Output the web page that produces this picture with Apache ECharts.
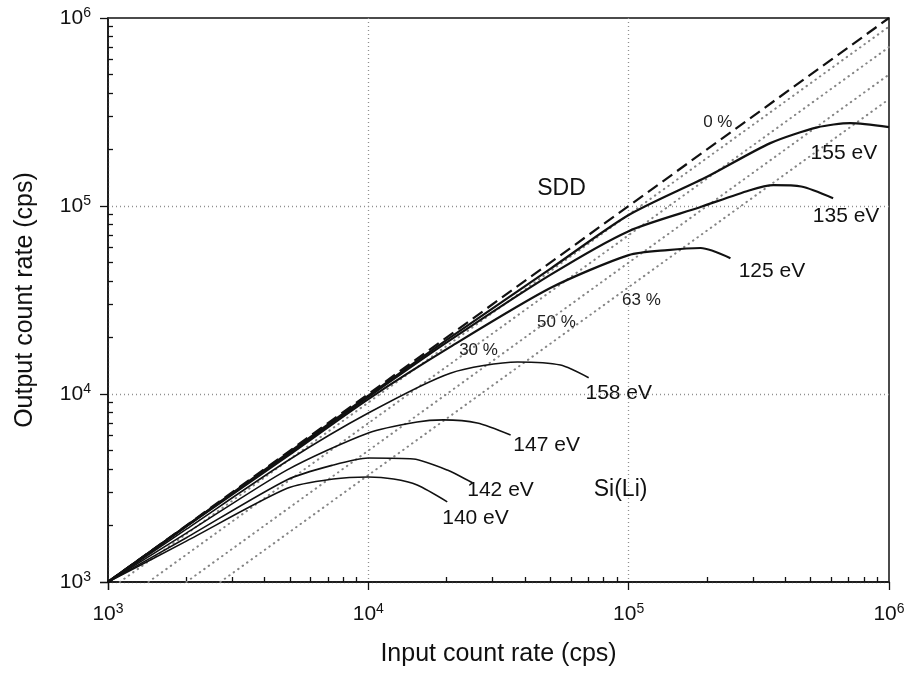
<!DOCTYPE html>
<html><head><meta charset="utf-8">
<script src="https://cdn.jsdelivr.net/npm/echarts@6/dist/echarts.min.js"></script>
<style>html,body{margin:0;padding:0;background:#fff}#c{width:908px;height:679px}</style>
</head><body><div id="c"></div>
<script>
// ---------- data ----------
const tickExponent = {1000: '3', 10000: '4', 100000: '5', 1000000: '6'};

// SDD curves (input cps, output cps)
const sdd155X = [1000, 2000, 5000, 10000, 20000, 50000, 100000, 200000, 350000, 530000, 710000, 1000000];
const sdd155Y = [1000, 1990, 4930, 9800, 19400, 46300, 89500, 143000, 216000, 262000, 276000, 263000];
const sdd135X = [1000, 2000, 5000, 10000, 20000, 50000, 100000, 190000, 290000, 360000, 460000, 610000];
const sdd135Y = [1000, 1985, 4880, 9650, 18800, 43000, 73500, 99000, 121000, 129000, 127000, 110000];
const sdd125X = [1000, 2000, 5000, 10000, 20650, 50000, 100000, 141000, 189000, 246000];
const sdd125Y = [1000, 1975, 4780, 9400, 17800, 36600, 54800, 58300, 59800, 52800];

// Si(Li) curves
const sili158X = [1000, 2000, 4880, 10000, 20650, 37400, 54700, 70200];
const sili158Y = [1000, 1910, 4400, 7920, 12900, 14800, 14250, 12200];
const sili147X = [1000, 2000, 4880, 10000, 15400, 19400, 26200, 35200];
const sili147Y = [1000, 1820, 3950, 6210, 7100, 7280, 7010, 6050];
const sili142X = [1000, 2000, 4880, 7330, 10000, 14900, 20100, 25100];
const sili142Y = [1000, 1720, 3500, 4190, 4570, 4510, 3940, 3370];
const sili140X = [1000, 2000, 4880, 7330, 10000, 12500, 15400, 20100];
const sili140Y = [1000, 1650, 3150, 3530, 3620, 3530, 3280, 2670];

// ideal (0 % dead time) and dead-time reference lines
const idealX = [1000, 1000000];
const idealY = [1000, 1000000];
const dt10X = [1110, 1000000];  const dt10Y = [1000, 900000];
const dt30X = [1430, 1000000];  const dt30Y = [1000, 700000];
const dt50X = [2000, 1000000];  const dt50Y = [1000, 500000];
const dt63X = [2700, 1000000];  const dt63Y = [1000, 370000];

// annotations (text, anchored in data space)
const noteText = ['0 %', '155 eV', 'SDD', '135 eV', '125 eV', '63 %', '50 %', '30 %', '158 eV', '147 eV', '142 eV', 'Si(Li)', '140 eV'];
const noteX = [220000, 671000, 55200, 684000, 355000, 112000, 52800, 26500, 91600, 48400, 32200, 93100, 25800];
const noteY = [280000, 191000, 123000, 88500, 45100, 31600, 24200, 17100, 10100, 5360, 3080, 3080, 2190];

// ---------- chart ----------
const zip = (xs, ys) => xs.map((x, i) => [x, ys[i]]);
const ink = '#111';

function curve(name, xs, ys, width) {
  return { name, type: 'line', data: zip(xs, ys), showSymbol: false, smooth: 0.25,
    lineStyle: { color: ink, width }, z: 5, silent: true };
}
function dotted(name, xs, ys) {
  return { name, type: 'line', data: zip(xs, ys), showSymbol: false,
    lineStyle: { color: '#858585', width: 2, type: [0.5, 5], cap: 'round' }, z: 3, silent: true };
}

const noteData = noteText.map((t, i) => {
  const size = t.indexOf('%') >= 0 ? 17 : (t.indexOf('eV') >= 0 ? 21 : 23);
  return { value: [noteX[i], noteY[i]], name: t,
    label: { fontSize: size, color: t.indexOf('%') >= 0 ? '#222' : '#111' } };
});

const axisLabelRich = {
  b: { fontSize: 21, color: '#111', fontFamily: 'Liberation Sans' },
  s: { fontSize: 14, color: '#111', fontFamily: 'Liberation Sans', verticalAlign: 'top', padding: [0, 0, 10, 0] }
};
const fmt = v => '{b|10}{s|' + (tickExponent[Math.round(v)] || Math.round(Math.log10(v))) + '}';

function axis(extra) {
  return Object.assign({
    type: 'log', logBase: 10, min: 1000, max: 1000000,
    axisLine: { show: true, lineStyle: { color: ink, width: 1.5 } },
    axisTick: { show: true, length: 8, lineStyle: { color: ink, width: 1.3 } },
    minorTick: { show: true, splitNumber: 9, length: -5, lineStyle: { color: ink, width: 1.3 } },
    splitLine: { show: true, showMinLine: false, showMaxLine: false, lineStyle: { color: '#8f8f8f', width: 1.3, type: [1, 3] } },
    nameLocation: 'middle',
    nameTextStyle: { fontSize: 25, color: '#111', fontFamily: 'Liberation Sans' }
  }, extra);
}

const chart = echarts.init(document.getElementById('c'), null, { renderer: 'canvas' });
chart.setOption({
  animation: false,
  backgroundColor: '#fff',
  textStyle: { fontFamily: 'Liberation Sans' },
  grid: { left: 108, right: 19, top: 18, bottom: 97, show: true, borderColor: ink, borderWidth: 1.5, backgroundColor: 'transparent' },
  xAxis: axis({ name: 'Input count rate (cps)', nameGap: 60, axisLabel: { formatter: fmt, rich: axisLabelRich, margin: 20 } }),
  yAxis: axis({ name: 'Output count rate (cps)', nameGap: 70, axisLabel: { formatter: fmt, rich: axisLabelRich, margin: 17 } }),
  series: [
    dotted('DT 10 %', dt10X, dt10Y),
    dotted('DT 30 %', dt30X, dt30Y),
    dotted('DT 50 %', dt50X, dt50Y),
    dotted('DT 63 %', dt63X, dt63Y),
    { name: '0 %', type: 'line', data: zip(idealX, idealY), showSymbol: false, z: 4, silent: true,
      lineStyle: { color: ink, width: 2.2, type: [12, 6] } },
    curve('SDD 155 eV', sdd155X, sdd155Y, 2.2),
    curve('SDD 135 eV', sdd135X, sdd135Y, 2.2),
    curve('SDD 125 eV', sdd125X, sdd125Y, 2.2),
    curve('Si(Li) 158 eV', sili158X, sili158Y, 1.6),
    curve('Si(Li) 147 eV', sili147X, sili147Y, 1.6),
    curve('Si(Li) 142 eV', sili142X, sili142Y, 1.6),
    curve('Si(Li) 140 eV', sili140X, sili140Y, 1.6),
    { name: 'notes', type: 'scatter', data: noteData, symbolSize: 1, z: 10, silent: true,
      itemStyle: { color: 'rgba(0,0,0,0)', opacity: 1 },
      label: { show: true, position: 'inside', formatter: p => p.name, fontFamily: 'Liberation Sans', opacity: 1 } }
  ]
});
</script></body></html>
